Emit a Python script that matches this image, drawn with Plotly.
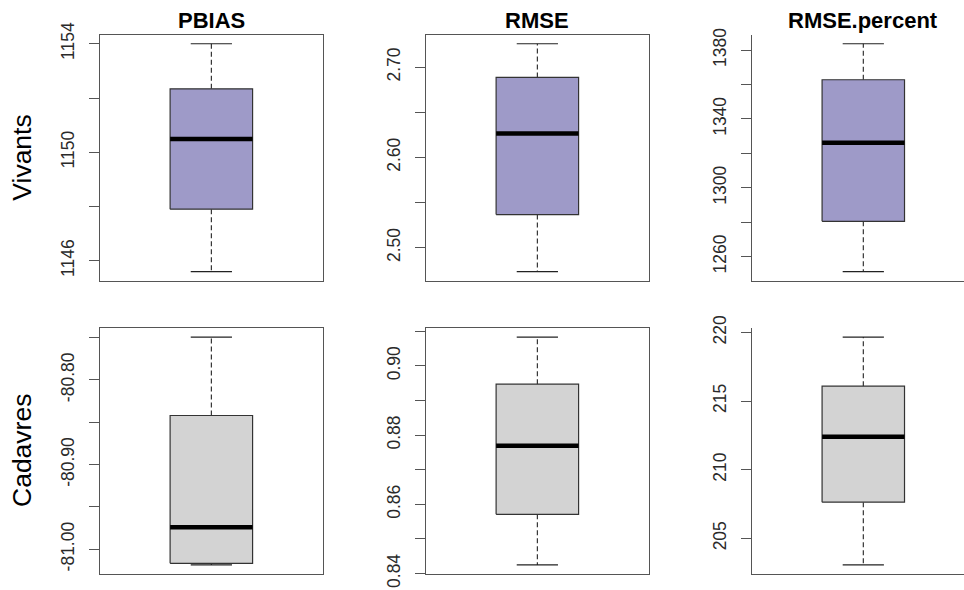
import plotly.graph_objects as go

# Summary statistics of the simulated error metrics
metrics = ["PBIAS", "RMSE", "RMSE.percent"]
groups = ["Vivants", "Cadavres"]

vivants_lo = [1145.6, 2.4735, 1251.3]
vivants_q1 = [1147.9, 2.5367, 1280.5]
vivants_med = [1150.49, 2.6265, 1326.2]
vivants_q3 = [1152.34, 2.6886, 1362.8]
vivants_hi = [1154.0, 2.7258, 1383.7]

cadavres_lo = [-81.0185, 0.8425, 203.07]
cadavres_q1 = [-81.0166, 0.8571, 207.64]
cadavres_med = [-80.9739, 0.8769, 212.41]
cadavres_q3 = [-80.842, 0.8947, 216.09]
cadavres_hi = [-80.7494, 0.9083, 219.66]

# Y-axis ticks (blank text where labels would overlap)
vivants_tickvals = [
    [1146, 1148, 1150, 1152, 1154],
    [2.50, 2.55, 2.60, 2.65, 2.70],
    [1260, 1280, 1300, 1320, 1340, 1360, 1380],
]
vivants_ticktext = [
    ["1146", "", "1150", "", "1154"],
    ["2.50", "", "2.60", "", "2.70"],
    ["1260", "", "1300", "", "1340", "", "1380"],
]
cadavres_tickvals = [
    [-81.00, -80.95, -80.90, -80.85, -80.80, -80.75],
    [0.84, 0.85, 0.86, 0.87, 0.88, 0.89, 0.90, 0.91],
    [205, 210, 215, 220],
]
cadavres_ticktext = [
    ["-81.00", "", "-80.90", "", "-80.80", ""],
    ["0.84", "", "0.86", "", "0.88", "", "0.90", ""],
    ["205", "210", "215", "220"],
]

W, H = 964, 590
FILLS = {"Vivants": "#9E9AC8", "Cadavres": "#D3D3D3"}
EDGE = "#333333"
FRAME = "#555555"

col_px = [(100, 322.7), (426, 648.7), (752, 974.6)]
row_px = [(34.7, 280.7), (328, 574)]
x_lo, x_hi = 0.46, 1.54

stats = {
    "Vivants": (vivants_lo, vivants_q1, vivants_med, vivants_q3, vivants_hi,
                vivants_tickvals, vivants_ticktext),
    "Cadavres": (cadavres_lo, cadavres_q1, cadavres_med, cadavres_q3, cadavres_hi,
                 cadavres_tickvals, cadavres_ticktext),
}

fig = go.Figure()
layout = {}
n = 0
for r, grp in enumerate(groups):
    lo, q1, med, q3, hi, tv, tt = stats[grp]
    for c, m in enumerate(metrics):
        n += 1
        xa = "x" if n == 1 else f"x{n}"
        ya = "y" if n == 1 else f"y{n}"
        xk = "xaxis" if n == 1 else f"xaxis{n}"
        yk = "yaxis" if n == 1 else f"yaxis{n}"

        # whiskers
        fig.add_trace(go.Scatter(
            x=[1, 1, None, 1, 1], y=[q3[c], hi[c], None, q1[c], lo[c]],
            mode="lines", line=dict(color="#222222", width=1.1, dash="5px,3px"),
            xaxis=xa, yaxis=ya, showlegend=False, hoverinfo="skip"))
        # staples
        fig.add_trace(go.Scatter(
            x=[0.9, 1.1, None, 0.9, 1.1], y=[hi[c], hi[c], None, lo[c], lo[c]],
            mode="lines", line=dict(color="#222222", width=1.1),
            xaxis=xa, yaxis=ya, showlegend=False, hoverinfo="skip"))
        # box
        fig.add_trace(go.Scatter(
            x=[0.8, 1.2, 1.2, 0.8, 0.8], y=[q1[c], q1[c], q3[c], q3[c], q1[c]],
            mode="lines", fill="toself", fillcolor=FILLS[grp],
            line=dict(color=EDGE, width=1.2),
            xaxis=xa, yaxis=ya, showlegend=False, hoverinfo="skip"))
        # median
        fig.add_trace(go.Scatter(
            x=[0.8, 1.2], y=[med[c], med[c]],
            mode="lines", line=dict(color="black", width=4.5),
            xaxis=xa, yaxis=ya, showlegend=False, hoverinfo="skip"))

        x0p, x1p = col_px[c]
        y0p, y1p = row_px[r]
        span = (x1p - x0p) / (x_hi - x_lo)
        dom_x1 = min(x1p, W)
        xr = [x_lo, x_lo + (dom_x1 - x0p) / span]
        pad = 0.04 * (hi[c] - lo[c])
        yr = [lo[c] - pad, hi[c] + pad]

        layout[xk] = dict(
            domain=[x0p / W, dom_x1 / W], range=xr, anchor=ya, automargin=False,
            showticklabels=False, ticks="", showgrid=False, zeroline=False,
            showline=True, linecolor=FRAME, linewidth=1.2,
            mirror=(x1p <= W))
        layout[yk] = dict(
            domain=[1 - y1p / H, 1 - y0p / H], range=yr, anchor=xa, automargin=False,
            tickvals=tv[c], ticktext=tt[c], tickangle=-90,
            ticks="outside", ticklen=10, tickcolor=FRAME, tickwidth=1.2,
            tickfont=dict(family="Liberation Sans, Arial", size=17.5, color="#2a2a2a"),
            ticklabelstandoff=8,
            showgrid=False, zeroline=False,
            showline=True, linecolor=FRAME, linewidth=1.2,
            mirror=(x1p <= W))

annotations = []
for c, m in enumerate(metrics):
    cx = (col_px[c][0] + col_px[c][1]) / 2
    annotations.append(dict(
        text=f"<b>{m}</b>", x=cx / W, y=1 - 20 / H, xref="paper", yref="paper",
        xanchor="center", yanchor="middle", showarrow=False,
        font=dict(family="Liberation Sans, Arial", size=22, color="black")))
for r, grp in enumerate(groups):
    cy = (row_px[r][0] + row_px[r][1]) / 2
    annotations.append(dict(
        text=grp, x=22 / W, y=1 - cy / H, xref="paper", yref="paper",
        xanchor="center", yanchor="middle", showarrow=False, textangle=-90,
        font=dict(family="Liberation Sans, Arial", size=26.5, color="black")))

fig.update_layout(
    width=W, height=H, margin=dict(l=0, r=0, t=0, b=0, autoexpand=False),
    paper_bgcolor="white", plot_bgcolor="white",
    annotations=annotations, **layout)

fig.write_html("out.html")
